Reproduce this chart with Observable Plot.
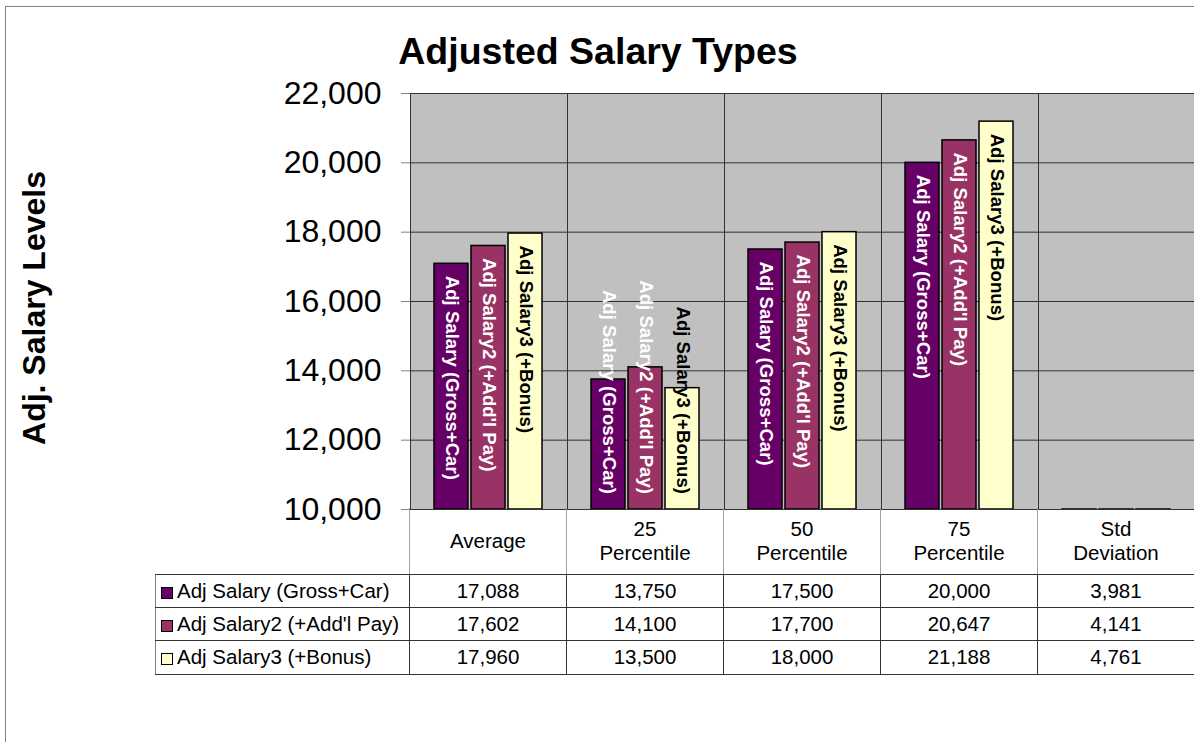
<!DOCTYPE html>
<html>
<head>
<meta charset="utf-8">
<script src="https://cdn.jsdelivr.net/npm/d3@7"></script>
<script src="https://cdn.jsdelivr.net/npm/@observablehq/plot@0.6"></script>
<style>
  html, body { margin: 0; padding: 0; background: #fff; overflow: hidden; }
  #wrap { position: relative; width: 1194px; height: 742px; overflow: hidden; background: #fff;
          font-family: "Liberation Sans", Arial, Helvetica, sans-serif; color: #000; }
  #outer { position: absolute; left: 5px; top: 6px; width: 1220px; height: 780px; border: 1px solid #808080; }
  #title { position: absolute; left: 0; top: 33px; width: 1196px; text-align: center;
           font-weight: bold; font-size: 37.5px; line-height: 37.5px; white-space: nowrap; }
  #ylabel { position: absolute; left: 34px; top: 308px; transform: translate(-50%, -50%) rotate(-90deg);
            font-weight: bold; font-size: 32px; line-height: 32px; white-space: nowrap; }
  #chart { position: absolute; left: 0; top: 0; width: 1200px; }
  #chart svg { max-width: none !important; }
  #table { position: absolute; left: 155px; top: 508px; border-collapse: collapse; table-layout: fixed;
           font-size: 20.5px; }
  #table td { padding: 0; text-align: center; vertical-align: middle; box-sizing: border-box; }
  #table tr.head td { height: 66px; line-height: 24px; white-space: pre-line;
                      border-left: 1px solid #a0a0a0; border-right: 1px solid #a0a0a0; border-bottom: 1px solid #333; }
  #table tr.head td.blank { border: none; border-right: 1px solid #a0a0a0; border-bottom: 1px solid #333; }
  #table tr.row td { height: 33.4px; border: 1px solid #333; }
  #table tr.row td.name { text-align: left; white-space: pre; border-left: 1px solid #808080; }
  .sw { display: inline-block; width: 10px; height: 10px; border: 1px solid #000; margin: 0 4px 0 5px; vertical-align: -1px; }
</style>
</head>
<body>
<div id="wrap">
  <div id="outer"></div>
  <div id="chart"></div>
  <div id="title"></div>
  <div id="ylabel"></div>
  <table id="table"></table>
</div>
<script>
// ---- data ----
const chartTitle = "Adjusted Salary Types";
const yAxisTitle = "Adj. Salary Levels";
const categories = ["Average", "25 Percentile", "50 Percentile", "75 Percentile", "Std Deviation"];
const categoryLabels = ["Average", "25\nPercentile", "50\nPercentile", "75\nPercentile", "Std\nDeviation"];
const seriesNames = ["Adj Salary (Gross+Car)", "Adj Salary2 (+Add'l Pay)", "Adj Salary3 (+Bonus)"];
const salary1 = [17088, 13750, 17500, 20000, 3981];
const salary2 = [17602, 14100, 17700, 20647, 4141];
const salary3 = [17960, 13500, 18000, 21188, 4761];
const seriesColors = ["#660066", "#993366", "#FFFFCC"];
const labelColors = ["white", "white", "black"];
const yMin = 10000, yMax = 22000;
const yTicks = [10000, 12000, 14000, 16000, 18000, 20000, 22000];

const seriesValues = [salary1, salary2, salary3];
const rows = [];
seriesValues.forEach((vals, s) => vals.forEach((v, c) => rows.push({cat: categories[c], series: seriesNames[s], si: s, value: v})));
const fmt = d3.format(",");

document.getElementById("title").textContent = chartTitle;
document.getElementById("ylabel").textContent = yAxisTitle;

const labelRows = rows.filter(d => d.value > yMin);
const labelMarks = seriesNames.map((name, s) =>
  Plot.text(labelRows.filter(d => d.si === s), {
    fx: "cat", x: "series", y: "value", text: "series",
    rotate: 90, textAnchor: "start", dy: 12,
    fill: labelColors[s], fontWeight: "bold", fontSize: 18.6
  })
);

const chart = Plot.plot({
  width: 1200,
  height: 509,
  marginTop: 93,
  marginBottom: 0,
  marginLeft: 409,
  marginRight: 4,
  style: {fontFamily: "'Liberation Sans', Arial, sans-serif", background: "transparent", color: "#000", overflow: "visible", maxWidth: "none"},
  fx: {domain: categories, padding: 0, axis: null},
  x: {domain: seriesNames, paddingInner: 0.08, paddingOuter: 0.66, axis: null},
  y: {domain: [yMin, yMax], axis: null},
  color: {domain: seriesNames, range: seriesColors},
  marks: [
    Plot.frame({fill: "#c0c0c0", stroke: null}),
    Plot.gridY(yTicks, {stroke: "#000", strokeOpacity: 0.75, strokeWidth: 1}),
    Plot.barY(rows, {fx: "cat", x: "series", y1: () => yMin, y2: "value", fill: "series",
                     stroke: "#000", strokeWidth: 1.5, clip: true}),
    ...labelMarks,
    Plot.frame({stroke: "#333", strokeWidth: 1}),
    Plot.axisY(yTicks, {tickFormat: fmt, fontSize: 32, tickSize: 9, tickPadding: 20, stroke: "#808080", label: null})
  ]
});
document.getElementById("chart").appendChild(chart);

// Keep labels inside the plot like Excel does
const svg = chart.tagName.toLowerCase() === "svg" ? chart : chart.querySelector("svg");
svg.style.maxWidth = "none";
const sRect = svg.getBoundingClientRect();
const limit = sRect.top + chart.scale("y").apply(yMin) - 15;
svg.querySelectorAll("text").forEach(t => {
  const tr = t.getAttribute("transform");
  if (!tr || !/rotate\(90\)/.test(tr)) return;
  const r = t.getBoundingClientRect();
  const over = r.bottom - limit;
  if (over > 0) {
    const m = tr.match(/translate\(([^)]+)\)/);
    const [tx, ty] = m[1].split(/[ ,]+/).map(Number);
    t.setAttribute("transform", `translate(${tx},${ty - over}) rotate(90)`);
  }
});

// Data table aligned with the facet columns
const fx = chart.scale("fx");
const colW = fx.bandwidth;
const table = document.getElementById("table");
const colgroup = document.createElement("colgroup");
const c0 = document.createElement("col"); c0.style.width = (409 - 155) + "px"; colgroup.appendChild(c0);
categories.forEach(() => { const c = document.createElement("col"); c.style.width = colW + "px"; colgroup.appendChild(c); });
table.appendChild(colgroup);
table.style.width = (409 - 155 + colW * categories.length) + "px";
const head = document.createElement("tr"); head.className = "head";
const blank = document.createElement("td"); blank.className = "blank"; head.appendChild(blank);
categoryLabels.forEach(l => { const td = document.createElement("td"); td.textContent = l; head.appendChild(td); });
table.appendChild(head);
seriesNames.forEach((name, s) => {
  const tr = document.createElement("tr"); tr.className = "row";
  const td = document.createElement("td"); td.className = "name";
  const sw = document.createElement("span"); sw.className = "sw"; sw.style.background = seriesColors[s];
  td.appendChild(sw); td.appendChild(document.createTextNode(name));
  tr.appendChild(td);
  seriesValues[s].forEach(v => { const c = document.createElement("td"); c.textContent = fmt(v); tr.appendChild(c); });
  table.appendChild(tr);
});
</script>
</body>
</html>
